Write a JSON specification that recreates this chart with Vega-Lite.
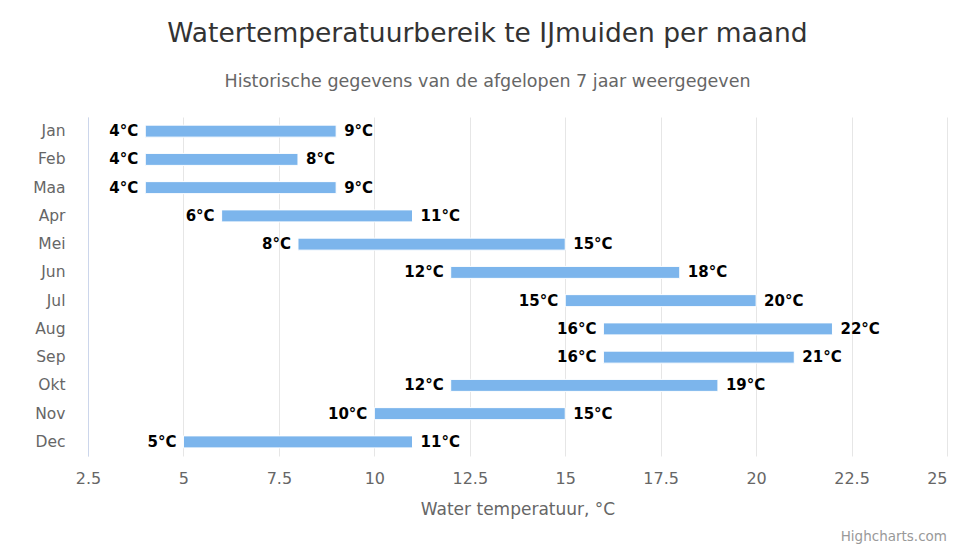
{
  "$schema": "https://vega.github.io/schema/vega-lite/v6.json",
  "width": 859,
  "height": 339,
  "autosize": {"type": "none"},
  "padding": {"left": 88, "top": 117, "right": 14, "bottom": 94},
  "background": "white",
  "config": {
    "font": "DejaVu Sans",
    "view": {"stroke": null}
  },
  "title": {
    "text": "Watertemperatuurbereik te IJmuiden per maand",
    "subtitle": "Historische gegevens van de afgelopen 7 jaar weergegeven",
    "anchor": "middle",
    "dx": -30,
    "fontSize": 26.5,
    "fontWeight": "normal",
    "color": "#333333",
    "subtitleFontSize": 17.5,
    "subtitleColor": "#666666",
    "subtitlePadding": 25,
    "offset": 27
  },
  "data": {
    "values": [
      {"maand": "Jan", "low": 4, "high": 9},
      {"maand": "Feb", "low": 4, "high": 8},
      {"maand": "Maa", "low": 4, "high": 9},
      {"maand": "Apr", "low": 6, "high": 11},
      {"maand": "Mei", "low": 8, "high": 15},
      {"maand": "Jun", "low": 12, "high": 18},
      {"maand": "Jul", "low": 15, "high": 20},
      {"maand": "Aug", "low": 16, "high": 22},
      {"maand": "Sep", "low": 16, "high": 21},
      {"maand": "Okt", "low": 12, "high": 19},
      {"maand": "Nov", "low": 10, "high": 15},
      {"maand": "Dec", "low": 5, "high": 11}
    ]
  },
  "transform": [
    {"calculate": "datum.low + '°C'", "as": "lowLabel"},
    {"calculate": "datum.high + '°C'", "as": "highLabel"}
  ],
  "encoding": {
    "y": {
      "field": "maand",
      "type": "nominal",
      "sort": null,
      "scale": {"paddingInner": 0, "paddingOuter": 0},
      "axis": {
        "title": null,
        "ticks": false,
        "domainColor": "#ccd6eb",
        "labelColor": "#666666",
        "labelFontSize": 15.5,
        "labelPadding": 23,
        "grid": false
      }
    }
  },
  "layer": [
    {
      "mark": {"type": "bar", "color": "#7cb5ec", "size": 12, "stroke": "white", "strokeWidth": 1},
      "encoding": {
        "x": {
          "field": "low",
          "type": "quantitative",
          "scale": {"domain": [2.5, 25], "nice": false, "zero": false},
          "axis": {
            "title": "Water temperatuur, °C",
            "values": [2.5, 5, 7.5, 10, 12.5, 15, 17.5, 20, 22.5, 25],
            "format": ".1~f",
            "labelFlush": false,
            "labelAlign": {"condition": {"test": "datum.value == 25", "value": "right"}, "value": "center"},
            "domain": false,
            "ticks": false,
            "grid": true,
            "gridColor": "#e6e6e6",
            "labelColor": "#666666",
            "labelFontSize": 16,
            "labelPadding": 14,
            "titleColor": "#666666",
            "titleFontSize": 17,
            "titleFontWeight": "normal",
            "titlePadding": 15
          }
        },
        "x2": {"field": "high"}
      }
    },
    {
      "mark": {"type": "text", "align": "right", "baseline": "middle", "dx": -7, "fontSize": 15, "fontWeight": "bold", "color": "#000000"},
      "encoding": {
        "x": {"field": "low", "type": "quantitative"},
        "text": {"field": "lowLabel"}
      }
    },
    {
      "mark": {"type": "text", "align": "left", "baseline": "middle", "dx": 8, "fontSize": 15, "fontWeight": "bold", "color": "#000000"},
      "encoding": {
        "x": {"field": "high", "type": "quantitative"},
        "text": {"field": "highLabel"}
      }
    },
    {
      "data": {"values": [{"credit": "Highcharts.com"}]},
      "mark": {"type": "text", "align": "right", "baseline": "middle", "dy": 95, "fontSize": 13.5, "color": "#999999"},
      "encoding": {
        "x": {"datum": 25},
        "y": {"datum": "Dec"},
        "text": {"field": "credit"}
      }
    }
  ]
}
